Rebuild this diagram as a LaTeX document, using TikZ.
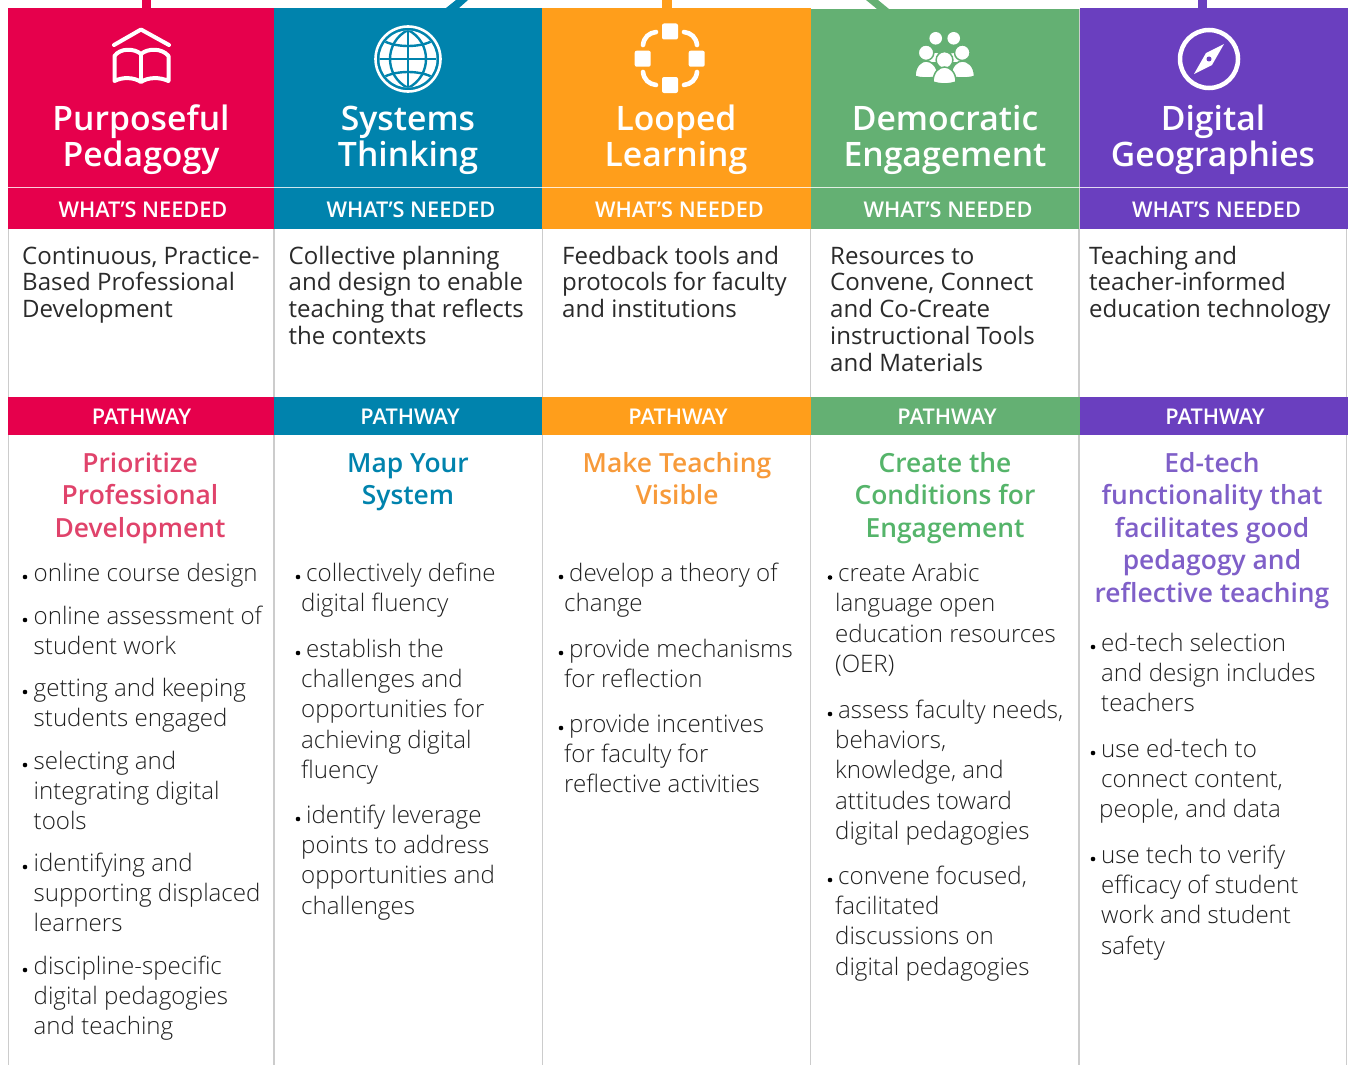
\documentclass[tikz,border=0pt]{standalone}
\usepackage{fontspec}
\setmainfont{Open Sans}
\newfontfamily\lightf{Open Sans Light}
\newfontfamily\semif{Open Sans Semibold}
\definecolor{cred}{HTML}{E6004C}
\definecolor{cblue}{HTML}{0083AD}
\definecolor{corange}{HTML}{FF9E1B}
\definecolor{cgreen}{HTML}{64B073}
\definecolor{cpurple}{HTML}{6A3FBF}
\definecolor{tred}{HTML}{E0436B}
\definecolor{tgreen}{HTML}{55B46A}
\definecolor{torange}{HTML}{F79A3A}
\definecolor{tpurple}{HTML}{7F5FC8}
\definecolor{grid}{HTML}{CCCCCC}
\definecolor{ink}{HTML}{2A2A2A}
\newcommand\mc[1]{\begin{tabular}[t]{@{}c@{}}#1\end{tabular}}
\newcommand\ml[1]{\begin{tabular}[t]{@{}l@{}}#1\end{tabular}}
\tikzset{
 x=1pt,y=-1pt,
 gridline/.style={draw=grid,line width=1.5pt},
 headtxt/.style={text=white,anchor=base,inner sep=0,font=\fontsize{33.7}{36}\semif\selectfont},
 bandtxt/.style={text=white,anchor=base,inner sep=0,font=\fontsize{21.7}{24}\semif\selectfont},
 need/.style={text=ink,anchor=base west,inner sep=0,font=\fontsize{24.05}{26.8}\selectfont},
 ptitle/.style={text=#1,anchor=base,inner sep=0,font=\fontsize{26.4}{32.5}\semif\selectfont},
 item/.style={text=black!88,anchor=base west,inner sep=0,font=\fontsize{24.1}{30.4}\lightf\selectfont},
 dotb/.style={circle,fill=black,inner sep=0,minimum size=4.6pt},
 icon/.style={draw=white,line width=4pt,fill=none},
 person/.style={fill=white,draw=cgreen,line width=1.5pt}
}
\begin{document}
\begin{tikzpicture}
\useasboundingbox (0,0) rectangle (1348,1065);
% stubs
\fill[cred] (142,0) rectangle (151,8);
\fill[cblue] (446,8) -- (456,0) -- (468,0) -- (459,8) -- cycle;
\fill[corange] (662,0) rectangle (672,8);
\fill[cgreen] (866,0) -- (878,0) -- (889,9) -- (877,9) -- cycle;
\fill[cpurple] (1198,0) rectangle (1207,8);
% grid
\foreach \g in {8.7,274,542.3,810.3,1079,1346.5} \draw[gridline] (\g,229) -- (\g,1065);
% bands
\foreach \xa/\xb/\c/\ya in {8/274/cred/8,274/542/cblue/8,542/810.5/corange/8,810.5/1079.5/cgreen/9,1079.5/1348/cpurple/8}{
 \fill[\c] (\xa,\ya) rectangle (\xb,229);
 \fill[\c] (\xa,397) rectangle (\xb,435);
}
\draw[grid,line width=.8pt] (1079.5,9) -- (1079.5,229);
\draw[white,line width=1pt,opacity=.8] (8,187.5) -- (1348,187.5);
% headers
\node[headtxt] (h1) at (141,130) {\mc{Purposeful\\Pedagogy}};
\node[headtxt] (h2) at (408,130) {\mc{Systems\\Thinking}};
\node[headtxt] (h3) at (676,130) {\mc{Looped\\Learning}};
\node[headtxt] (h4) at (945,130) {\mc{Democratic\\Engagement}};
\node[headtxt] (h5) at (1213,130) {\mc{Digital\\Geographies}};
\foreach \n/\xx in {1/143,2/411,3/679.5,4/948,5/1216.5}
 \node[bandtxt] (w\n) at (\xx,217) {WHAT’S NEEDED};
\foreach \n/\xx in {1/141.5,2/410,3/678,4/947,5/1215}
 \node[bandtxt] (p\n) at (\xx,424) {PATHWAY};
% needed
\node[need] (n1) at (22,264) {\ml{Continuous, Practice-\\Based Professional\\Development}};
\node[need] (n2) at (288.5,264) {\ml{Collective planning\\and design to enable\\teaching that reflects\\the contexts}};
\node[need] (n3) at (562,264) {\ml{Feedback tools and\\protocols for faculty\\and institutions}};
\node[need] (n4) at (830,264) {\ml{Resources to\\Convene, Connect\\and Co-Create\\instructional Tools\\and Materials}};
\node[need] (n5) at (1089,264) {\ml{Teaching and\\teacher-informed\\education technology}};
% titles
\node[ptitle=tred] (t1) at (140,472) {\mc{Prioritize\\Professional\\Development}};
\node[ptitle=cblue] (t2) at (408,472) {\mc{Map Your\\System}};
\node[ptitle=torange] (t3) at (677,472) {\mc{Make Teaching\\Visible}};
\node[ptitle=tgreen] (t4) at (945,472) {\mc{Create the\\Conditions for\\Engagement}};
\node[ptitle=tpurple] (t5) at (1212,472) {\mc{Ed-tech\\functionality that\\facilitates good\\pedagogy and\\reflective teaching}};
% items
\foreach \x/\y/\t [count=\i] in {
 33.5/581/{online course design},
 33.5/624/{online assessment of\\student work},
 33.5/696/{getting and keeping\\students engaged},
 33.5/769/{selecting and\\integrating digital\\tools},
 33.5/871/{identifying and\\supporting displaced\\learners},
 33.5/974/{discipline-specific\\digital pedagogies\\and teaching}}{
 \node[item] (ia\i) at (\x,\y) {\ml{\t}};
 \node[dotb] (da\i) at (25,\y-4) {};
}
\foreach \x/\y/\dx/\t [count=\i] in {
 301/581/298/{\hspace{5pt}collectively define\\digital fluency},
 301/657/298/{\hspace{5pt}establish the\\challenges and\\opportunities for\\achieving digital\\fluency},
 301/823/298/{\hspace{5pt}identify leverage\\points to address\\opportunities and\\challenges}}{
 \node[item] (ib\i) at (\x,\y) {\ml{\t}};
 \node[dotb] (db\i) at (\dx,\y-4) {};
}
\foreach \x/\y/\dx/\t [count=\i] in {
 564/581/561/{\hspace{5pt}develop a theory of\\change},
 564/657/561/{\hspace{5pt}provide mechanisms\\for reflection},
 564/732/561/{\hspace{5pt}provide incentives\\for faculty for\\reflective activities}}{
 \node[item] (ic\i) at (\x,\y) {\ml{\t}};
 \node[dotb] (dc\i) at (\dx,\y-4) {};
}
\foreach \x/\y/\dx/\t [count=\i] in {
 835/581.5/830/{\hspace{3pt}create Arabic\\language open\\education resources\\(OER)},
 835/718/830/{\hspace{3pt}assess faculty needs,\\behaviors,\\knowledge, and\\attitudes toward\\digital pedagogies},
 835/884/830/{\hspace{3pt}convene focused,\\facilitated\\discussions on\\digital pedagogies}}{
 \node[item] (id\i) at (\x,\y) {\ml{\t}};
 \node[dotb] (dd\i) at (\dx,\y-4) {};
}
\foreach \x/\y/\dx/\t [count=\i] in {
 1101/651/1093/{ed-tech selection\\and design includes\\teachers},
 1101/757/1093/{use ed-tech to\\connect content,\\\hspace{-2pt}people, and data},
 1101/863/1093/{use tech to verify\\efficacy of student\\work and student\\safety}}{
 \node[item] (ie\i) at (\x,\y) {\ml{\t}};
 \node[dotb] (de\i) at (\dx,\y-4) {};
}
% book icon
\draw[icon,line width=4pt,line cap=round,line join=round] (114,45) -- (141,29.5) -- (169,45);
\draw[icon,line join=round] (114.5,81) -- (114.5,56) .. controls (120,48) and (134,48) .. (141,54) .. controls (148,48) and (162,48) .. (168.5,56) -- (168.5,81) .. controls (160,77) and (148,77) .. (141,82) .. controls (134,77) and (122,77) .. (114.5,81) -- cycle;
\draw[icon] (141,54) -- (141,82);
% globe
\draw[white,line width=2.6pt] (408,59) circle (32.5);
\fill[white] (408,59) circle (28.5);
\begin{scope}
\clip (408,59) circle (28.5);
\draw[cblue,line width=2.4pt] (379,59) -- (437,59) (408,30) -- (408,88);
\draw[cblue,line width=2.4pt] (408,30) .. controls (384,42) and (384,76) .. (408,88);
\draw[cblue,line width=2.4pt] (408,30) .. controls (432,42) and (432,76) .. (408,88);
\draw[cblue,line width=2.4pt] (382,40) .. controls (395,48) and (421,48) .. (434,40);
\draw[cblue,line width=2.4pt] (382,78) .. controls (395,70) and (421,70) .. (434,78);
\end{scope}
% loop
\foreach \a/\b in {670/31.5,670/85,642.7/58.7,696.7/58.7}
 \fill[white,rounded corners=2pt] (\a-8,\b-8) rectangle (\a+8,\b+8);
\draw[icon,line width=4.6pt,line cap=round] (643,45) .. controls (644,37) and (649,33) .. (656,32);
\draw[icon,line width=4.6pt,line cap=round] (684,32) .. controls (691,33) and (696,37) .. (697,45);
\draw[icon,line width=4.6pt,line cap=round] (697,72) .. controls (696,80) and (691,84) .. (684,85);
\draw[icon,line width=4.6pt,line cap=round] (656,85) .. controls (649,84) and (644,80) .. (643,72);
% people
\fill[white] (927,62) .. controls (928,50) and (944,50) .. (946,62) -- cycle;
\fill[white] (944,62) .. controls (946,50) and (962,50) .. (964,62) -- cycle;
\fill[white] (935.7,38.3) circle (6.3);
\fill[white] (953.7,38.3) circle (6.3);
\draw[person] (926,52.7) circle (7.8);
\draw[person] (962.3,52.7) circle (7.8);
\draw[person] (915,76.5) .. controls (915,65) and (922,61) .. (926,61) .. controls (930,61) and (938,65) .. (938,76.5) .. controls (930,78.5) and (922,78.5) .. (915,76.5) -- cycle;
\draw[person] (951,76.5) .. controls (951,65) and (958,61) .. (962.5,61) .. controls (967,61) and (974.5,65) .. (974.5,76.5) .. controls (967,78.5) and (958,78.5) .. (951,76.5) -- cycle;
\draw[person] (944.5,60) circle (8.4);
\draw[person] (933,82) .. controls (933,72) and (939,67) .. (944.5,67) .. controls (950,67) and (956,72) .. (956,82) .. controls (949,84.5) and (940,84.5) .. (933,82) -- cycle;
% compass
\draw[white,line width=4.5pt] (1209,59) circle (29);
\fill[white] (1224,44) -- (1212,65) -- (1194,74) -- (1206,53) -- cycle;
\fill[cpurple] (1209,59) circle (2.5);
\end{tikzpicture}
\end{document}
